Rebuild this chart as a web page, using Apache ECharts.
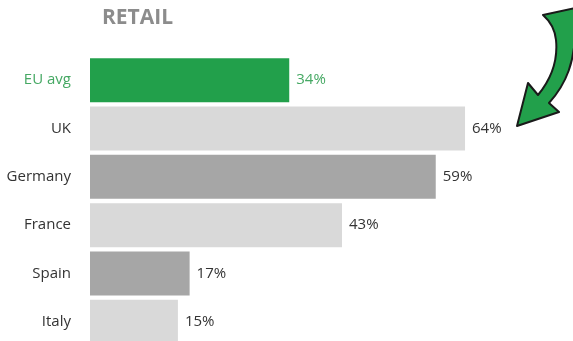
<!DOCTYPE html>
<html><head><meta charset="utf-8">
<script src="https://cdn.jsdelivr.net/npm/echarts@6/dist/echarts.min.js"></script>
<style>html,body{margin:0;padding:0;background:#fff}#c{width:573px;height:341px}</style>
</head><body><div id="c"></div>
<script>
const categories = ['EU avg', 'UK', 'Germany', 'France', 'Spain', 'Italy'];
const values = [34, 64, 59, 43, 17, 15];
const barColors = ['#22a04b', '#d9d9d9', '#a6a6a6', '#d9d9d9', '#a6a6a6', '#d9d9d9'];
const title = 'RETAIL';

const arrowPath = 'M543,15 L575,8 L575,35 C574,60 568,82 549,103 L559,112 L517,126 L528,83 L538,95 C552,78 558,60 556,40 C555,30 551,22 543,15 Z';
echarts.graphic.registerShape('bigArrow', echarts.graphic.extendPath(arrowPath, {}));

const chart = echarts.init(document.getElementById('c'), null, {renderer: 'canvas'});
const font = '"Open Sans", sans-serif';
chart.setOption({
  animation: false,
  backgroundColor: '#fff',
  title: {
    text: title, left: 97, top: 3,
    textStyle: {fontFamily: font, fontSize: 21, fontWeight: 'bold', color: '#8c8c8c'}
  },
  grid: {left: 90, top: 56, width: 586, height: 290, containLabel: false, outerBoundsMode: 'none'},
  xAxis: {type: 'value', min: 0, max: 100, show: false},
  yAxis: {
    type: 'category', inverse: true, data: categories,
    axisLine: {show: false}, axisTick: {show: false}, splitLine: {show: false},
    axisLabel: {
      margin: 19, fontFamily: font, fontSize: 15,
      color: (v) => v === 'EU avg' ? '#45a863' : '#333'
    }
  },
  series: [{
    type: 'bar',
    data: values.map((v, i) => ({value: v, itemStyle: {color: barColors[i]},
      label: {color: i === 0 ? '#45a863' : '#333'}})),
    barCategoryGap: '9%',
    label: {show: true, position: 'right', distance: 7, formatter: '{c}%',
      fontFamily: font, fontSize: 15}
  }],
  graphic: [{
    type: 'bigArrow',
    style: {fill: '#22a04b', stroke: '#1a1a1a', lineWidth: 2, lineJoin: 'round'}
  }]
});
</script></body></html>
